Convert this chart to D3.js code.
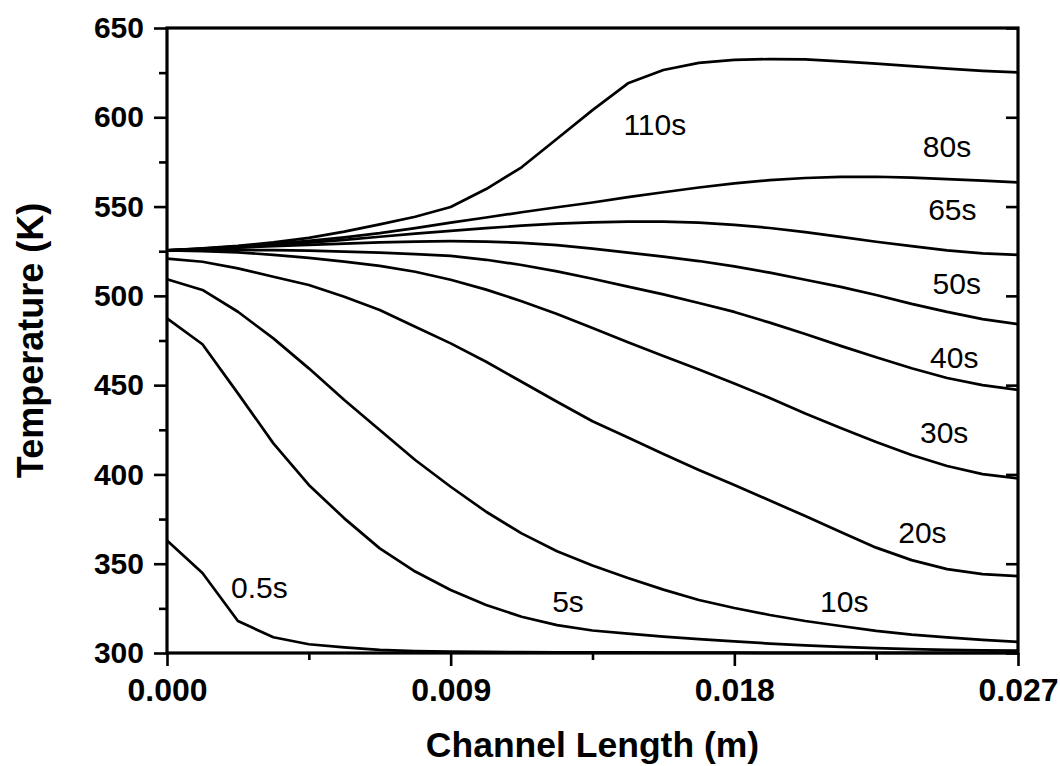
<!DOCTYPE html>
<html>
<head>
<meta charset="utf-8">
<script src="https://cdn.jsdelivr.net/npm/d3@7"></script>
<style>
  body { margin: 0; background: #fff; }
  svg { display: block; font-family: "Liberation Sans", Arial, sans-serif; }
</style>
</head>
<body>
<script>
"use strict";

// channel position (m), same grid for every curve
const positions = [0, 0.001125, 0.00225, 0.003375, 0.0045, 0.005625, 0.00675, 0.007875,
    0.009, 0.010125, 0.01125, 0.012375, 0.0135, 0.014625, 0.01575, 0.016875,
    0.018, 0.019125, 0.02025, 0.021375, 0.0225, 0.023625, 0.02475, 0.025875, 0.027];

// temperature (K) at each position, one array per time
const temp05s = [363, 344.8, 317.9, 308.8, 304.9, 303.2, 301.8, 301.1, 300.8, 300.6, 300.5, 300.4,
    300.3, 300.3, 300.2, 300.2, 300.2, 300.1, 300.1, 300.1, 300.1, 300.1, 300.1, 300.1, 300.1];
const temp5s = [487.4, 472.9, 445.4, 417.4, 394.1, 375.4, 358.6, 345.6, 335.3, 326.9, 320.3, 315.6,
    312.6, 310.8, 309.2, 307.8, 306.5, 305.3, 304.3, 303.4, 302.7, 302.2, 301.8, 301.5, 301.3];
const temp10s = [509.3, 503.3, 491.1, 476.2, 459.4, 441.7, 424.9, 408.1, 393.1, 379.1, 367, 357,
    349, 342, 335.5, 329.7, 325.2, 321.3, 317.9, 315.1, 312.4, 310.3, 308.7, 307.3, 306.2];
const temp20s = [520.8, 519.1, 515.4, 510.7, 506.1, 499.5, 492.1, 482.7, 473.4, 463.1, 451.9, 440.7,
    429.8, 420.7, 411.4, 402.5, 394.1, 385.4, 376.7, 367.8, 359, 352, 347, 344.2, 343];
const temp30s = [525.5, 525.1, 524.3, 523, 521.3, 519.2, 516.8, 513.5, 509, 503.5, 497, 489.8,
    482, 474, 466.3, 458.8, 450.9, 442.8, 434.1, 426, 418.2, 410.9, 404.7, 400.2, 397.8];
const temp40s = [525.5, 525.6, 525.7, 525.6, 525.3, 524.8, 524.2, 523.4, 522.4, 520.2, 517.3, 513.7,
    509.6, 505.2, 500.8, 496, 491, 485, 478.6, 472, 465.6, 459.5, 454, 450, 447.3];
const temp50s = [525.5, 526.2, 527, 527.8, 528.6, 529.3, 529.9, 530.4, 530.6, 530.4, 529.7, 528.4,
    526.4, 524.2, 522, 519.5, 516.5, 513, 509, 505, 500.5, 495.5, 491, 487, 484.2];
const temp65s = [525.5, 526.2, 527.2, 528.4, 529.8, 531.4, 533.1, 534.8, 536.4, 537.9, 539.3, 540.4,
    541.2, 541.6, 541.6, 541, 539.8, 538, 535.7, 533, 530.3, 527.8, 525.5, 523.8, 523];
const temp80s = [525.5, 526.5, 527.7, 529.1, 530.8, 532.8, 535.1, 537.9, 541, 543.9, 546.8, 549.6,
    552.3, 555.3, 558, 560.7, 563, 564.8, 566, 566.6, 566.7, 566.2, 565.4, 564.5, 563.6];
const temp110s = [525.5, 526.6, 528, 530, 532.5, 536, 540, 544.3, 549.8, 559.8, 572, 588,
    604, 619, 626.5, 630.5, 632.2, 632.6, 632.4, 631.3, 630, 628.6, 627.2, 626, 625.2];

const seriesList = [temp05s, temp5s, temp10s, temp20s, temp30s, temp40s, temp50s, temp65s, temp80s, temp110s];

// curve labels and where they sit (data units, left edge / baseline)
const labelNames = ["0.5s", "5s", "10s", "20s", "30s", "40s", "50s", "65s", "80s", "110s"];
const labelX = [0.00203, 0.01222, 0.02072, 0.0232, 0.02389, 0.02421, 0.02429, 0.02415, 0.02398, 0.01448];
const labelY = [330.8, 323.1, 323.1, 361.4, 417.4, 459.4, 501, 542.5, 577.9, 590.1];

// ticks
const xMajorTicks = [0, 0.009, 0.018, 0.027];
const xMinorTicks = [0.0045, 0.0135, 0.0225];
const yMajorTicks = [300, 350, 400, 450, 500, 550, 600, 650];
const yMinorTicks = [325, 375, 425, 475, 525, 575, 625];

const margin = {top: 28, right: 42, bottom: 113, left: 167}
, width = 1060 - margin.left - margin.right
, height = 766 - margin.top - margin.bottom

const svg = d3.select("body").append("svg")
    .attr("width", width + margin.left + margin.right)
    .attr("height", height + margin.top + margin.bottom)

const g = svg.append("g")
    .attr("transform", "translate(" + margin.left + "," + margin.top + ")")

const xScale = d3.scaleLinear()
    .domain([0, 0.027])
    .range([0, width])

const yScale = d3.scaleLinear()
    .domain([300, 650])
    .range([height, 0])

// curves
const line = d3.line()
    .x((d, i) => xScale(positions[i]))
    .y(d => yScale(d))

g.selectAll(".curve").data(seriesList)
    .enter()
    .append("path")
        .attr("class", "curve")
        .attr("d", d => line(d))
        .attr("fill", "none")
        .attr("stroke", "#000")
        .attr("stroke-width", 2.7)
        .attr("stroke-linejoin", "round")

// axes
function styleAxis(sel, fontSize) {
    sel.select(".domain").remove()
    sel.selectAll(".tick line").attr("stroke", "#000").attr("stroke-width", 2.6)
    sel.selectAll(".tick text")
        .attr("fill", "#000")
        .style("font-size", fontSize + "px")
        .style("font-weight", "bold")
        .style("font-family", "'Liberation Sans', Arial, sans-serif")
}

g.append("g")
    .attr("transform", "translate(0," + height + ")")
    .call(d3.axisBottom(xScale).tickValues(xMajorTicks).tickSize(13).tickPadding(12).tickFormat(d3.format(".3f")))
    .call(sel => styleAxis(sel, 32))

g.append("g")
    .attr("transform", "translate(0," + height + ")")
    .call(d3.axisBottom(xScale).tickValues(xMinorTicks).tickSize(7).tickFormat(""))
    .call(sel => styleAxis(sel, 32))

g.append("g")
    .call(d3.axisLeft(yScale).tickValues(yMajorTicks).tickSize(13).tickPadding(10).tickFormat(d3.format("d")))
    .call(sel => styleAxis(sel, 30))

g.append("g")
    .call(d3.axisLeft(yScale).tickValues(yMinorTicks).tickSize(8).tickFormat(""))
    .call(sel => styleAxis(sel, 30))

// right side, ticks pointing in
g.append("g")
    .attr("transform", "translate(" + width + ",0)")
    .call(d3.axisLeft(yScale).tickValues(yMajorTicks).tickSize(12).tickFormat(""))
    .call(sel => styleAxis(sel, 30))

// frame
g.append("rect")
    .attr("x", 0)
    .attr("y", 0)
    .attr("width", width)
    .attr("height", height)
    .attr("fill", "none")
    .attr("stroke", "#000")
    .attr("stroke-width", 3.2)

// curve labels
g.selectAll(".label").data(labelNames)
    .enter()
    .append("text")
        .attr("class", "label")
        .attr("x", (d, i) => xScale(labelX[i]))
        .attr("y", (d, i) => yScale(labelY[i]))
        .style("font-size", "30px")
        .text(d => d)

// axis titles
svg.append("text")
    .attr("x", margin.left + width / 2)
    .attr("y", 757)
    .attr("text-anchor", "middle")
    .style("font-size", "35.5px")
    .style("font-weight", "bold")
    .text("Channel Length (m)")

svg.append("text")
    .attr("transform", "translate(43," + (margin.top + height / 2) + ") rotate(-90)")
    .attr("text-anchor", "middle")
    .style("font-size", "36px")
    .style("font-weight", "bold")
    .text("Temperature (K)")
</script>
</body>
</html>
